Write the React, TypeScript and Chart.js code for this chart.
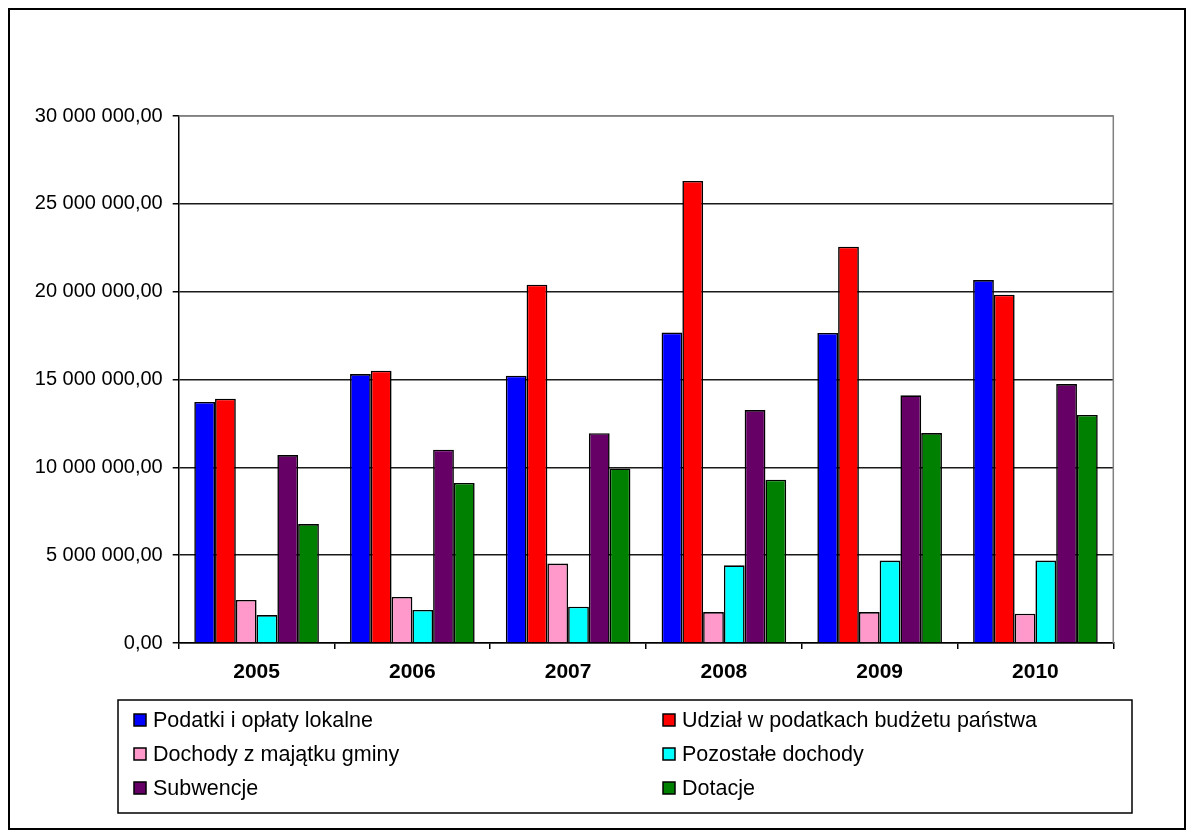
import React, { useEffect, useRef } from "react";
import { Chart, registerables } from "chart.js";

Chart.register(...registerables);

const years = ["2005", "2006", "2007", "2008", "2009", "2010"];
const seriesNames = [
  "Podatki i opłaty lokalne",
  "Udział w podatkach budżetu państwa",
  "Dochody z majątku gminy",
  "Pozostałe dochody",
  "Subwencje",
  "Dotacje",
];
const podatki = [13720000, 15310000, 15220000, 17670000, 17650000, 20660000];
const udzial = [13910000, 15500000, 20400000, 26300000, 22560000, 19830000];
const majatek = [2450000, 2620000, 4520000, 1760000, 1760000, 1670000];
const pozostale = [1590000, 1880000, 2070000, 4420000, 4690000, 4690000];
const subwencje = [10700000, 11000000, 11940000, 13260000, 14100000, 14740000];
const dotacje = [6770000, 9110000, 9940000, 9300000, 11950000, 12980000];
const colors = ["#0000FF", "#FF0000", "#FF99CC", "#00FFFF", "#660066", "#008000"];
const yMax = 30000000;
const yStep = 5000000;

const FONT = "'Liberation Sans', Arial, sans-serif";

function formatPl(v: number): string {
  const s = Math.round(v).toString().replace(/\B(?=(\d{3})+(?!\d))/g, " ");
  return s + ",00";
}

const framePlugin = {
  id: "frameAndLegend",
  beforeDatasetsDraw(chart: any) {
    const { ctx, chartArea } = chart;
    ctx.save();
    ctx.strokeStyle = "#808080";
    ctx.lineWidth = 1.5;
    ctx.beginPath();
    ctx.moveTo(chartArea.left, chartArea.top);
    ctx.lineTo(chartArea.right, chartArea.top);
    ctx.lineTo(chartArea.right, chartArea.bottom);
    ctx.stroke();
    ctx.restore();
  },
  afterDraw(chart: any) {
    const { ctx } = chart;
    const w = chart.width;
    const h = chart.height;
    ctx.save();
    // outer frame
    ctx.strokeStyle = "#000";
    ctx.lineWidth = 2;
    ctx.strokeRect(1, 1, w - 2, h - 2);
    // legend box
    const lx = 110, ly = 692, lw = 1014, lh = 113;
    ctx.lineWidth = 1.5;
    ctx.strokeRect(lx, ly, lw, lh);
    const colX = [126, 655];
    const rowY = [712, 746, 780];
    ctx.font = "21.5px " + FONT;
    ctx.textBaseline = "middle";
    ctx.textAlign = "left";
    chart.data.datasets.forEach((ds: any, i: number) => {
      const c = i % 2;
      const r = Math.floor(i / 2);
      const bx = colX[c];
      const by = rowY[r];
      ctx.fillStyle = ds.backgroundColor;
      ctx.fillRect(bx, by - 6, 12, 12);
      ctx.strokeStyle = "#000";
      ctx.lineWidth = 1.5;
      ctx.strokeRect(bx, by - 6, 12, 12);
      ctx.fillStyle = "#000";
      ctx.fillText(ds.label, bx + 19, by + 1);
    });
    ctx.restore();
  },
};

export default function App() {
  const ref = useRef<HTMLCanvasElement | null>(null);
  useEffect(() => {
    if (!ref.current) return;
    const values = [podatki, udzial, majatek, pozostale, subwencje, dotacje];
    const chart = new Chart(ref.current, {
      type: "bar",
      data: {
        labels: years,
        datasets: values.map((d, i) => ({
          label: seriesNames[i],
          data: d,
          backgroundColor: colors[i],
          borderColor: "#000",
          borderWidth: 1.6,
          categoryPercentage: 0.8,
          barPercentage: 1.0,
        })),
      },
      options: {
        animation: false,
        responsive: false,
        maintainAspectRatio: false,
        layout: { padding: { left: 0, right: 72.7, top: 108, bottom: 137 } },
        plugins: { legend: { display: false }, tooltip: { enabled: false } },
        scales: {
          x: {
            offset: true,
            grid: {
              display: true,
              offset: true,
              drawOnChartArea: false,
              drawTicks: true,
              tickLength: 6,
              color: "#000",
              tickColor: "#000",
              lineWidth: 1.5,
            },
            border: { display: true, color: "#000", width: 1.5 },
            ticks: {
              color: "#000",
              font: { family: FONT, size: 21, weight: "bold" },
              padding: 11,
              maxRotation: 0,
            },
            afterFit(scale: any) {
              scale.height = 50;
            },
          },
          y: {
            min: 0,
            max: yMax,
            grid: {
              color: (c: any) => (c.tick && c.tick.value === yMax ? "#808080" : "#1a1a1a"),
              tickColor: "#000",
              lineWidth: 1.5,
              drawTicks: true,
              tickLength: 6,
            },
            border: { display: true, color: "#000", width: 1.5 },
            ticks: {
              stepSize: yStep,
              color: "#000",
              font: { family: FONT, size: 20 },
              padding: 10,
              callback: (v: any) => formatPl(Number(v)),
            },
            afterFit(scale: any) {
              scale.width = 170.7;
            },
          },
        },
      },
      plugins: [framePlugin],
    });
    return () => chart.destroy();
  }, []);
  return (
    <div style={{ position: "fixed", left: 8, top: 8 }}>
      <canvas ref={ref} width={1178} height={822} style={{ display: "block", width: 1178, height: 822 }} />
    </div>
  );
}
